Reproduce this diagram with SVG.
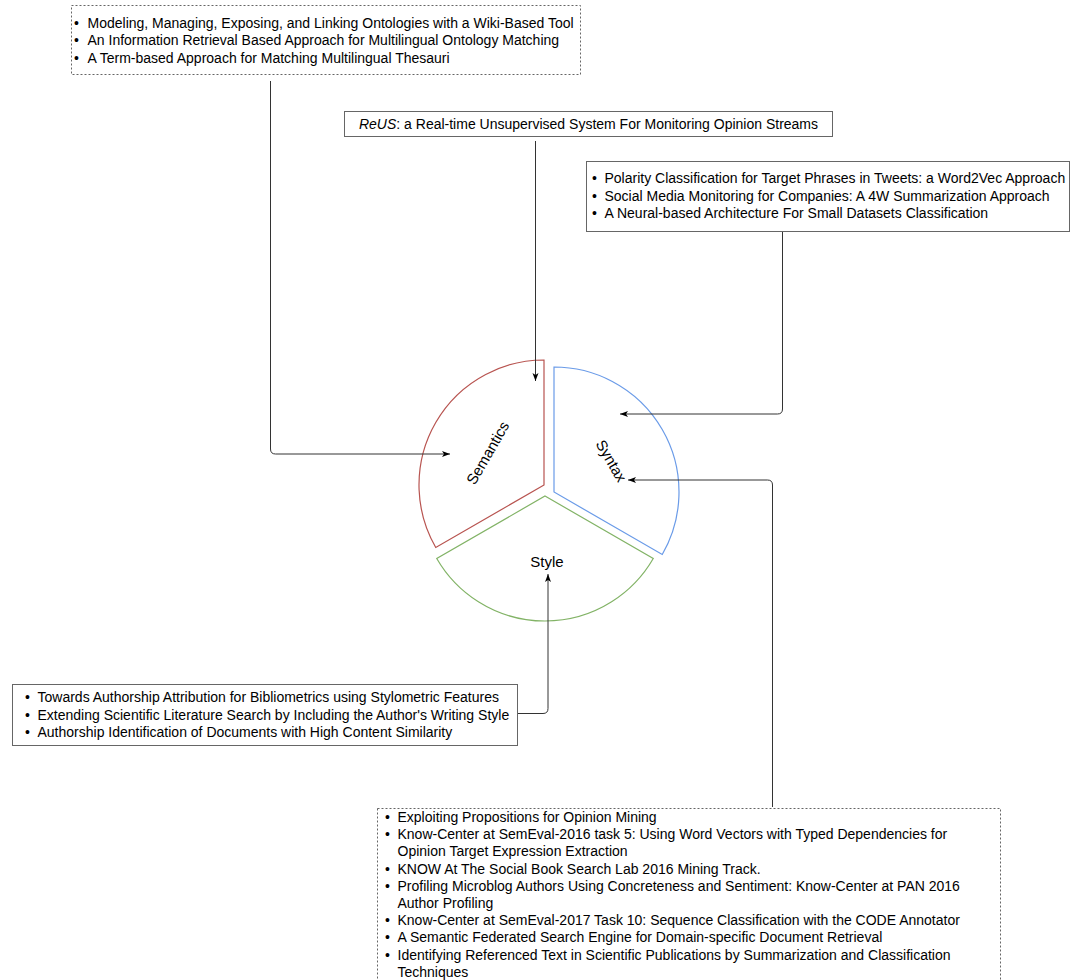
<svg xmlns="http://www.w3.org/2000/svg" width="1077" height="980" viewBox="0 0 1077 980">
<defs>
<style>
text{font-family:"Liberation Sans",Arial,Helvetica,sans-serif;font-size:14px;fill:#000}
.lbl{font-size:15px;text-anchor:middle}
.box{fill:#fff;stroke:#666;stroke-width:1}
.dot{fill:#fff;stroke:#666;stroke-width:1;stroke-dasharray:2 2}
.conn{fill:none;stroke:#333;stroke-width:1}
.mid{text-anchor:middle}
</style>
<marker id="arr" viewBox="0 0 8 8" refX="8" refY="4" markerWidth="8" markerHeight="8" orient="auto" markerUnits="userSpaceOnUse">
<path d="M0,1 L8,4 L0,7 L2,4 Z" fill="#000"/>
</marker>
</defs>
<rect width="1077" height="980" fill="#fff"/>

<g id="sector-semantics">
<path d="M544,485 L435.75,547.5 A125,125 0 0 1 544,360 Z" fill="none" stroke="#b85450" stroke-width="1.2"/>
<text class="lbl" transform="translate(488,453) rotate(-60)" dy="5">Semantics</text>
</g>
<g id="sector-syntax">
<path d="M554,492 L554,367 A125,125 0 0 1 662.25,554.5 Z" fill="none" stroke="#6a9be8" stroke-width="1.2"/>
<text class="lbl" transform="translate(611,461) rotate(60)" dy="5">Syntax</text>
</g>
<g id="sector-style">
<path d="M545,496 L653.25,558.5 A125,125 0 0 1 436.75,558.5 Z" fill="none" stroke="#82b366" stroke-width="1.2"/>
<text class="lbl" x="547" y="567">Style</text>
</g>

<g id="box-semantics">
<rect class="dot" x="71.5" y="5.5" width="509" height="69"/>
<text x="74" y="27.5">•</text><text x="87.5" y="27.5">Modeling, Managing, Exposing, and Linking Ontologies with a Wiki-Based Tool</text>
<text x="74" y="45">•</text><text x="87.5" y="45">An Information Retrieval Based Approach for Multilingual Ontology Matching</text>
<text x="74" y="62.5">•</text><text x="87.5" y="62.5">A Term-based Approach for Matching Multilingual Thesauri</text>
</g>

<g id="box-reus">
<rect class="box" x="344.5" y="111.5" width="488" height="25"/>
<text class="mid" x="588.5" y="129"><tspan font-style="italic">ReUS</tspan>: a Real-time Unsupervised System For Monitoring Opinion Streams</text>
</g>

<g id="box-syntax">
<rect class="box" x="586.5" y="161.5" width="483" height="70"/>
<text x="592" y="183">•</text><text x="604.5" y="183">Polarity Classification for Target Phrases in Tweets: a Word2Vec Approach</text>
<text x="592" y="200.5">•</text><text x="604.5" y="200.5">Social Media Monitoring for Companies: A 4W Summarization Approach</text>
<text x="592" y="218">•</text><text x="604.5" y="218">A Neural-based Architecture For Small Datasets Classification</text>
</g>

<g id="box-style">
<rect class="box" x="12.5" y="684.5" width="505" height="61"/>
<text x="25" y="702">•</text><text x="37.5" y="702">Towards Authorship Attribution for Bibliometrics using Stylometric Features</text>
<text x="25" y="719.5">•</text><text x="37.5" y="719.5">Extending Scientific Literature Search by Including the Author's Writing Style</text>
<text x="25" y="737">•</text><text x="37.5" y="737">Authorship Identification of Documents with High Content Similarity</text>
</g>

<g id="box-syntax-list">
<rect class="dot" x="377.5" y="808.5" width="623" height="180"/>
<text x="385" y="822">•</text><text x="397.5" y="822">Exploiting Propositions for Opinion Mining</text>
<text x="385" y="839.2">•</text><text x="397.5" y="839.2">Know-Center at SemEval-2016 task 5: Using Word Vectors with Typed Dependencies for</text>
<text x="397.5" y="856.4">Opinion Target Expression Extraction</text>
<text x="385" y="873.6">•</text><text x="397.5" y="873.6">KNOW At The Social Book Search Lab 2016 Mining Track.</text>
<text x="385" y="890.8">•</text><text x="397.5" y="890.8">Profiling Microblog Authors Using Concreteness and Sentiment: Know-Center at PAN 2016</text>
<text x="397.5" y="908">Author Profiling</text>
<text x="385" y="925.2">•</text><text x="397.5" y="925.2">Know-Center at SemEval-2017 Task 10: Sequence Classification with the CODE Annotator</text>
<text x="385" y="942.4">•</text><text x="397.5" y="942.4">A Semantic Federated Search Engine for Domain-specific Document Retrieval</text>
<text x="385" y="959.6">•</text><text x="397.5" y="959.6">Identifying Referenced Text in Scientific Publications by Summarization and Classification</text>
<text x="397.5" y="976.6">Techniques</text>
</g>

<g id="connectors">
<path class="conn" marker-end="url(#arr)" d="M270.5,81 L270.5,449 Q270.5,454 275.5,454 L450,454"/>
<path class="conn" marker-end="url(#arr)" d="M535.5,141 L535.5,381"/>
<path class="conn" marker-end="url(#arr)" d="M782.5,232 L782.5,409 Q782.5,414 777.5,414 L620,414"/>
<path class="conn" marker-end="url(#arr)" d="M518,713.5 L543,713.5 Q548,713.5 548,708.5 L548,574"/>
<path class="conn" marker-end="url(#arr)" d="M772.5,807 L772.5,485 Q772.5,480 767.5,480 L628,480"/>
</g>
</svg>
